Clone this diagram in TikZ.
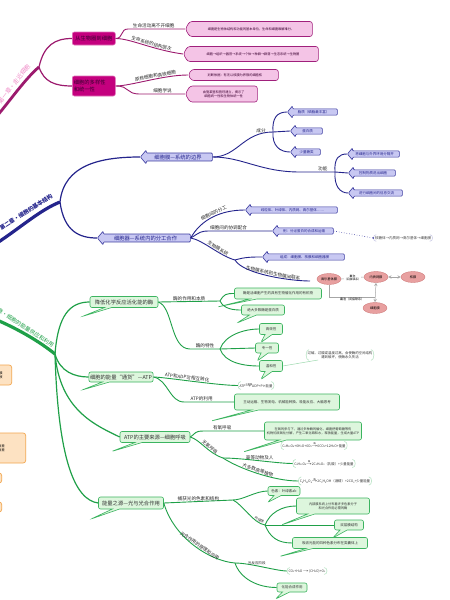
\documentclass[tikz,border=0pt]{standalone}
\usepackage{fontspec}
\setmainfont{Noto Sans CJK SC}
\usetikzlibrary{shapes.symbols,shapes.arrows,shapes.callouts,shapes.geometric}
\definecolor{magline}{HTML}{9C1A6E}
\definecolor{magbox}{HTML}{C4007E}
\definecolor{magtext}{HTML}{3A0030}
\definecolor{pinkfill}{HTML}{F4C4E6}
\definecolor{pinkdraw}{HTML}{A0207C}
\definecolor{magchap}{HTML}{F08CC8}
\definecolor{bluline}{HTML}{24248C}
\definecolor{blufill}{HTML}{C8C8F2}
\definecolor{bludraw}{HTML}{3C3CA0}
\definecolor{grnline}{HTML}{1FA048}
\definecolor{grnfill}{HTML}{DDF6DD}
\definecolor{grndraw}{HTML}{3CB460}
\definecolor{redfill}{HTML}{E8A0A0}
\definecolor{reddraw}{HTML}{D07A7A}
\definecolor{orfill}{HTML}{FDE2C2}
\definecolor{ordraw}{HTML}{F2A64E}
\newcommand\fzA{\fontsize{5.3}{6.3}\selectfont}
\newcommand\fzB{\fontsize{4.6}{5.5}\selectfont}
\newcommand\fzC{\fontsize{3.5}{4.3}\selectfont}
\newcommand\fzD{\fontsize{3.2}{4}\selectfont}
\newcommand\sbn[1]{\raisebox{-0.6pt}{\fontsize{2.2}{2.4}\selectfont #1}}
\newcommand\rxn[1]{\ooalign{\hfil\raisebox{2.4pt}{\fontsize{2.2}{2.4}\selectfont #1}\hfil\cr\scalebox{1.6}[1]{→}\cr}}
\newcommand\brkpair[2]{%
  \draw[#1] ([xshift=3pt]#2.north west) .. controls ([xshift=-0.8pt]#2.north west) and ([xshift=-0.8pt]#2.south west) .. ([xshift=3pt]#2.south west);
  \draw[#1] ([xshift=-3pt]#2.north east) .. controls ([xshift=0.8pt]#2.north east) and ([xshift=0.8pt]#2.south east) .. ([xshift=-3pt]#2.south east);}
\tikzset{
  lab/.style={font=\fzB, inner sep=0.6pt, text=black!85},
  mlink/.style={draw=magline, line width=0.9pt},
  blink/.style={draw=bluline, line width=0.9pt},
  glink/.style={draw=grnline, line width=0.9pt},
  magb/.style={rectangle, rounded corners=2pt, fill=magbox, draw=magbox!55!white, line width=0.6pt, font=\fzA, text=magtext, inner sep=1.5pt, align=left, anchor=west},
  pinkc/.style={signal, signal to=west, signal from=nowhere, signal pointer angle=120, fill=pinkfill, draw=pinkdraw, line width=0.6pt, rounded corners=2.5pt, font=\fzD, text=magtext, align=center, inner sep=1pt, anchor=west},
  bluarr/.style={single arrow, shape border rotate=180, fill=blufill, draw=bludraw, line width=0.6pt, rounded corners=1pt, single arrow head extend=3pt, single arrow tip angle=100, anchor=tip, inner sep=1.2pt, font=\fzC, text=bluline},
  grnb/.style={rectangle callout, rounded corners=2pt, fill=grnfill, draw=grndraw, line width=0.6pt, inner sep=1.2pt, align=center, font=\fzC, text=black!80},
  gtail/.style 2 args={callout relative pointer={(#1,#2)}},
  redell/.style={ellipse, fill=redfill, draw=reddraw, line width=0.4pt, font=\fzD, inner sep=0.5pt, minimum width=24pt, minimum height=11pt},
  redcon/.style={draw=gray!70, line width=0.5pt},
  eqn/.style={font=\fontsize{3.4}{4.2}\selectfont, inner sep=1.5pt, align=center, text=black!80},
  gbrk/.style={draw=grndraw!35, line width=0.6pt},
  bbrk/.style={draw=bludraw!25, line width=0.6pt},
  orb/.style={rectangle, rounded corners=2.5pt, fill=orfill, draw=ordraw, line width=0.7pt, font=\fzD, align=right, inner sep=1.5pt}
}
\begin{document}
\begin{tikzpicture}[x=1pt,y=-1pt]
\useasboundingbox (0,0) rectangle (450,600);
\fill[white] (0,0) rectangle (450,600);

% ===== Chapter 1 (magenta) =====
\coordinate (mstart) at (-3,116);
\coordinate (mroot) at (39,67);
\draw[magline, line width=2.8pt] (mstart) .. controls (12,98) and (26,78) .. (mroot);
\node[rotate=52, font=\fontsize{6}{7}\selectfont, text=magchap] (mchap) at (14,84) {第一章·走近细胞};

\node[magb, minimum width=43pt, minimum height=13pt] (m1) at (72,38.5) {从生物圈到细胞};
\node[magb, text width=40pt, minimum height=20pt] (m2) at (72,86) {细胞的多样性\\和统一性};
\draw[magline, line width=1.2pt] (mroot) .. controls (44,45) and (55,38.5) .. (m1.west);
\draw[magline, line width=1.2pt] (mroot) .. controls (44,82) and (55,86) .. (m2.west);

\node[pinkc, minimum width=127pt, minimum height=15pt] (p1) at (185,29) {细胞是生物体结构和功能的基本单位，生命和细胞难解难分。};
\node[pinkc, minimum width=135pt, minimum height=15pt] (p2) at (183,54) {细胞→组织→器官→系统→个体→种群→群落→生态系统→生物圈};
\node[pinkc, minimum width=90pt, minimum height=11pt] (p3) at (188,75) {判断依据：有无以核膜为界限的细胞核};
\node[pinkc, minimum width=72pt, minimum height=16pt] (p4) at (185,94) {由施莱登和施旺建立，揭示了\\细胞统一性和生物体统一性};

\draw[mlink] (m1.east) .. controls +(8,0) and +(-8,0) .. ([xshift=-57pt]p1.west) -- node[lab, above, pos=0.45] (ml1) {生命活动离不开细胞} (p1.west);
\draw[mlink] (m1.east) .. controls +(15,0) and +(-30,-4) .. (p2.west) node[pos=0.6, sloped, above, lab] (ml2) {生命系统的结构层次};
\draw[mlink] (m2.east) .. controls +(15,0) and +(-25,0) .. (p3.west) node[pos=0.6, sloped, above, lab] (ml3) {原核细胞和真核细胞};
\draw[mlink] (m2.east) .. controls +(15,0) and +(-15,0) .. ([xshift=-45pt]p4.west) -- node[lab, above] (ml4) {细胞学说} (p4.west);

% ===== Chapter 2 (blue) =====
\coordinate (bstart) at (-3,243);
\coordinate (broot) at (60,202);
\draw[bluline, line width=3.2pt] (bstart) .. controls (20,228) and (40,210) .. (broot);
\node[rotate=33, font=\fontsize{5.6}{6.5}\selectfont\bfseries, text=bluline] (bchap) at (26,212) {第二章·细胞的基本结构};

\node[bluarr, minimum height=72pt, font=\fzA] (b1) at (140,157) {细胞膜—系统的边界};
\node[bluarr, minimum height=93pt, font=\fzA] (b2) at (97,238) {细胞器—系统内的分工合作};
\draw[bluline, line width=1.2pt] (broot) .. controls (64,165) and (100,157) .. (b1.tip);
\draw[bluline, line width=1.2pt] (broot) .. controls (64,232) and (80,238) .. (b2.tip);

\node[bluarr, minimum height=50pt] (b11) at (287,112) {脂质（磷脂最丰富）};
\node[bluarr, minimum height=32pt] (b12) at (290,131) {蛋白质};
\node[bluarr, minimum height=30pt] (b13) at (290,152) {少量糖类};
\node[bluarr, minimum height=52pt] (b21) at (347,154) {将细胞与外界环境分隔开};
\node[bluarr, minimum height=47pt] (b22) at (348,173) {控制物质进出细胞};
\node[bluarr, minimum height=54pt] (b23) at (348,193) {进行细胞间的信息交流};
\node[bluarr, minimum height=92pt] (b31) at (245,210) {线粒体、叶绿体、内质网、高尔基体……};
\node[bluarr, minimum height=61pt] (b32) at (272,231) {例：分泌蛋白的合成和运输};
\node[bluarr, minimum height=82pt] (b33) at (262,257) {组成：细胞膜、核膜和细胞器膜};

\coordinate (bj1) at (273,132);
\coordinate (bj2) at (335,172);
\coordinate (bj3) at (235,260);
\coordinate (blend) at (310,281);
\draw[blink] (b1.east) .. controls +(25,0) and +(-30,0) .. (bj1) node[pos=0.85, above, lab] (lcf) {成分};
\draw[blink] (bj1) .. controls +(-1,-14) and +(-10,0) .. (b11.tip);
\draw[blink] (bj1) -- (b12.tip);
\draw[blink] (bj1) .. controls +(-1,14) and +(-10,0) .. (b13.tip);
\draw[blink] (b1.east) .. controls +(30,0) and +(-40,0) .. ([xshift=-35pt]bj2) -- node[lab, above, pos=0.65] (lgn) {功能} (bj2);
\draw[blink] (bj2) .. controls +(-1,-14) and +(-8,0) .. (b21.tip);
\draw[blink] (bj2) -- (b22.tip);
\draw[blink] (bj2) .. controls +(-1,14) and +(-8,0) .. (b23.tip);

\draw[blink] (b2.east) .. controls +(10,-18) and +(-25,0) .. (b31.tip) node[pos=0.55, sloped, above, lab] (lfg) {细胞间的分工};
\draw[blink] (b2.east) .. controls +(10,-6) and +(-10,0) .. ([xshift=-62pt]b32.tip) -- node[lab, above, pos=0.3] (lxt) {细胞间的协调配合} (b32.tip);
\draw[blink] (b2.east) .. controls +(12,2) and +(-15,-4) .. (bj3) node[pos=0.6, sloped, above, lab] (lsw) {生物膜系统};
\draw[blink] (bj3) .. controls +(10,-3) and +(-10,0) .. (b33.tip);
\draw[blink] (bj3) .. controls +(8,14) and +(-20,0) .. (blend) node[pos=0.55, sloped, above, lab] (llx) {生物膜系统和生物膜间联系};

\node[eqn, font=\fzC, text=black!75] (bbr) at (403,238) {核糖体→内质网→高尔基体→细胞膜};
\brkpair{bbrk}{bbr}
\draw[bludraw, dotted, line width=0.6pt] (b32.east) -- (bbr.west);
\fill[bludraw] (bbr.west) circle (0.9pt);

\node[redell] (r1) at (329,279) {高尔基体膜};
\node[redell] (r2) at (376,277) {内质网膜};
\node[redell] (r3) at (413,277) {核膜};
\node[redell] (r4) at (375,308) {细胞膜};
\coordinate (rj) at (375,297);
\draw[redcon] (r1.east) -- (r2.west) node[midway, font=\fontsize{2.8}{3.2}\selectfont, align=center, inner sep=0.3pt, fill=white] (rl1) {囊泡\\（间接联系）};
\draw[redcon, <->, >=stealth] (r2.east) -- (r3.west);
\draw[redcon, <->, >=stealth] (r2.south) -- (r4.north);
\draw[redcon] (r1.south) |- (rj) node[pos=0.75, below, font=\fontsize{3}{3.5}\selectfont, inner sep=0.8pt] (rl2) {囊泡（间接联系）};

% ===== Chapter 3 (green) =====
\coordinate (gstart) at (-3,320);
\coordinate (groot) at (55,354);
\draw[grnline, line width=3.2pt] (gstart) .. controls (20,330) and (40,342) .. (groot);
\node[rotate=-33, font=\fontsize{5.5}{6.5}\selectfont, text=grnline] (gchap) at (21,325) {第三章·细胞的能量供应和利用};

\node[grnb, font=\fzA, minimum width=68pt, minimum height=11pt, gtail={-26}{9}] (g1) at (124,302) {降低化学反应活化能的酶};
\node[grnb, font=\fzA, minimum width=62pt, minimum height=10pt, gtail={-24}{8}] (g2) at (121,377) {细胞的能量“通货”—ATP};
\node[grnb, font=\fzA, minimum width=70pt, minimum height=11pt, gtail={-27}{9}] (g3) at (155,437) {ATP的主要来源—细胞呼吸};
\node[grnb, font=\fzA, minimum width=65pt, minimum height=12pt, gtail={-25}{10}] (g4) at (131,503) {能量之源—光与光合作用};
\draw[grnline, line width=1.2pt] (groot) .. controls (58,315) and (70,302) .. (g1.west);
\draw[grnline, line width=1.2pt] (groot) .. controls (60,372) and (75,377) .. (g2.west);
\draw[grnline, line width=1.2pt] (groot) .. controls (60,410) and (95,425) .. (g3.west);
\draw[grnline, line width=1.2pt] (groot) .. controls (58,460) and (75,500) .. (g4.west);

% enzyme
\coordinate (gj1) at (220,301);
\coordinate (gj2) at (220,349);
\node[grnb, minimum width=87pt, minimum height=11pt, gtail={-36}{8}] (g11) at (278,293.5) {酶是活细胞产生的具有生物催化作用的有机物};
\node[grnb, minimum width=43pt, minimum height=10pt, gtail={-16}{8}] (g12) at (263,310) {绝大多数酶是蛋白质};
\node[grnb, minimum width=23pt, minimum height=11pt, gtail={-6}{8}] (g21) at (271,329) {高效性};
\node[grnb, minimum width=23pt, minimum height=10pt, gtail={-6}{8}] (g22) at (267,348) {专一性};
\node[grnb, minimum width=23pt, minimum height=11pt, gtail={-6}{8}] (g23) at (271,366) {温和性};
\draw[glink] (g1.east) -- node[above, lab] (le1) {酶的作用和本质} (gj1);
\draw[glink] (gj1) .. controls +(4,-7) and +(-8,0) .. (g11.west);
\draw[glink] (gj1) .. controls +(4,8) and +(-8,0) .. (g12.west);
\draw[glink] (g1.east) .. controls +(15,5) and +(-20,0) .. ([xshift=-30pt]gj2) -- node[above, lab] (le2) {酶的特性} (gj2);
\draw[glink] (gj2) .. controls +(5,-14) and +(-15,0) .. (g21.west);
\draw[glink] (gj2) -- (g22.west);
\draw[glink] (gj2) .. controls +(5,14) and +(-15,0) .. (g23.west);
\node[eqn] (gnote) at (340,355) {过碱、过酸或温度过高，会使酶的空间结构\\遭到破坏，使酶永久失活};
\brkpair{gbrk}{gnote}
\draw[draw=grndraw!50, line width=0.5pt] (g23.east) -- ([xshift=12pt, yshift=-5pt]gnote.west);

% ATP
\node[eqn] (geq1) at (256,385.5) {ATP\rxn{水解酶}ADP+Pi+能量};
\brkpair{gbrk}{geq1}
\node[grnb, minimum width=105pt, minimum height=16pt, gtail={-44}{11}] (gu) at (287,402) {主动运输、生物发电、机械能转换、吸能反应、大脑思考};
\draw[glink] (g2.east) .. controls +(10,0) and +(-20,0) .. (geq1.west) node[pos=0.45, sloped, above, lab] (la1) {ATP和ADP可相互转化};
\draw[glink] (g2.east) .. controls +(15,3) and +(-15,0) .. ([xshift=-50pt]gu.west) -- node[above, lab, pos=0.35] (la2) {ATP的利用} (gu.west);

% respiration
\coordinate (gj3) at (223,458);
\node[grnb, font=\fzD, minimum width=97pt, minimum height=18pt, gtail={-40}{12}] (gy) at (313,431) {在氧的参与下，通过多种酶的催化，细胞把葡萄糖等有\\机物彻底氧化分解，产生二氧化碳和水，释放能量，生成大量ATP};
\node[eqn] (geq2) at (314,445.5) {C\sbn{6}H\sbn{12}O\sbn{6}+6H\sbn{2}O+6O\sbn{2}\rxn{酶}6CO\sbn{2}+12H\sbn{2}O+能量};
\brkpair{gbrk}{geq2}
\node[eqn] (geq3) at (324,463.5) {C\sbn{6}H\sbn{12}O\sbn{6}\rxn{酶}2C\sbn{3}H\sbn{6}O\sbn{3}（乳酸）+少量能量};
\brkpair{gbrk}{geq3}
\node[eqn] (geq4) at (335,481) {C\sbn{6}H\sbn{12}O\sbn{6}\rxn{酶}2C\sbn{2}H\sbn{5}OH（酒精）+2CO\sbn{2}+少量能量};
\brkpair{gbrk}{geq4}
\draw[glink] (g3.east) .. controls +(6,-4) and +(-10,0) .. ([xshift=-60pt]gy.west) -- node[above, lab, pos=0.3] (lr1) {有氧呼吸} (gy.west);
\draw[glink] (g3.east) .. controls +(10,3) and +(-15,-5) .. (gj3) node[pos=0.6, sloped, above, lab] (lr2) {无氧呼吸};
\draw[glink] (gj3) .. controls +(20,0) and +(-15,0) .. (geq3.west) node[pos=0.5, above, lab] (lr3) {高等动物及人};
\draw[glink] (gj3) .. controls +(15,10) and +(-25,0) .. (geq4.west) node[pos=0.5, sloped, above, lab] (lr4) {大多数高等植物};

% photosynthesis
\coordinate (gj4) at (233,500);
\coordinate (gj5) at (265,525);
\coordinate (gj6) at (235,563);
\node[grnb, minimum width=32pt, minimum height=9pt, gtail={-10}{7}] (g41) at (284,491) {色素：叶绿素ab};
\node[grnb, font=\fzD, minimum width=73pt, minimum height=16pt, gtail={-30}{11}] (g51) at (333,506) {内部膜系统上分布着许多色素分子\\和光合作用必需的酶};
\node[grnb, minimum width=29pt, minimum height=10pt, gtail={-10}{8}] (g52) at (349,525) {双层膜结构};
\node[grnb, minimum width=75pt, minimum height=11pt, gtail={-30}{8}] (g53) at (330,543) {吸收光能的四种色素分布在类囊体上};
\node[eqn] (geq5) at (307,571) {CO\sbn{2}+H\sbn{2}O\,\rxn{\ }\,(CH\sbn{2}O)+O\sbn{2}};
\brkpair{gbrk}{geq5}
\node[grnb, minimum width=30pt, minimum height=9pt, gtail={-10}{7}] (g61) at (292,587.5) {化能合成作用};
\draw[glink] (g4.east) -- node[above, lab] (lp1) {捕获光的色素和结构} (gj4);
\draw[glink] (gj4) .. controls +(10,0) and +(-12,0) .. (g41.west);
\draw[glink] (gj4) .. controls +(10,5) and +(-12,-2) .. (gj5) node[pos=0.8, sloped, above, lab, font=\fzC] (lp2) {叶绿体};
\draw[glink] (gj5) .. controls +(5,-12) and +(-15,0) .. (g51.west);
\draw[glink] (gj5) -- (g52.west);
\draw[glink] (gj5) .. controls +(5,12) and +(-15,0) .. (g53.west);
\draw[glink] (g4.east) .. controls +(10,35) and +(-25,-2) .. (gj6) node[pos=0.55, sloped, above, lab] (lp3) {光合作用的原理和应用};
\draw[glink] (gj6) .. controls +(15,0) and +(-10,0) .. (geq5.west) node[pos=0.4, above, lab, font=\fzC] (lp4) {光反应阶段};
\draw[glink] (gj6) .. controls +(5,15) and +(-20,0) .. (g61.west);

% ===== Chapter 4 remnants (orange) =====
\node[orb, anchor=east, minimum width=50pt, minimum height=20pt] (o1) at (12,375) {原生质层相当于半透膜\\细胞液与外界溶液};
\node[orb, anchor=east, minimum width=80pt, minimum height=30pt] (o2) at (26,448) {半透膜两侧溶液具有浓度差\\的浓度差};
\node[orb, anchor=east, minimum width=20pt, minimum height=10pt] (o3) at (2,478) {};
\node[orb, anchor=east, minimum width=20pt, minimum height=10pt] (o4) at (2,507) {};
\end{tikzpicture}
\end{document}
